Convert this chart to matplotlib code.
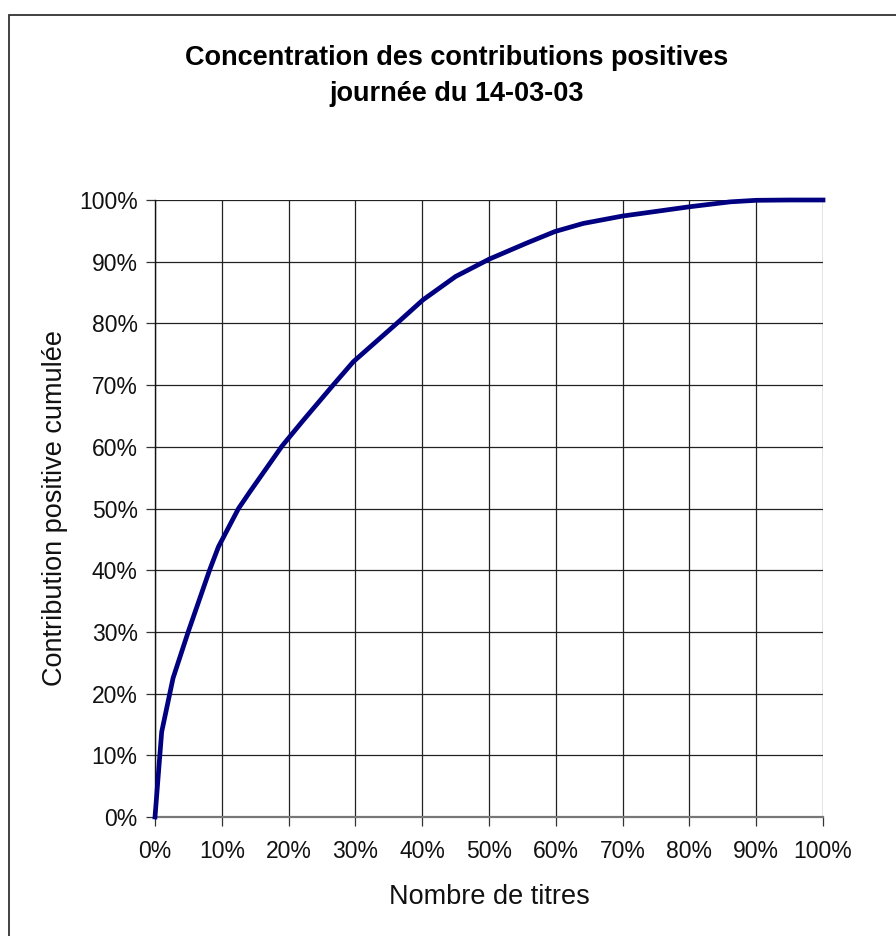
import numpy as np
import matplotlib
matplotlib.use("Agg")
import matplotlib.pyplot as plt
from matplotlib.patches import Rectangle
from matplotlib.ticker import FuncFormatter, MultipleLocator

plt.rcParams["font.family"] = ["Liberation Sans", "DejaVu Sans"]

# courbe de concentration (part des titres, contribution positive cumulée), en %
part_titres = [0, 1.0, 2.7, 5.0, 8.2, 9.5, 12.5, 14.2, 19.0, 22.2,
               26.9, 29.7, 36.2, 40.1, 45.0, 50.0, 55.6, 59.9, 64.1, 70.0,
               80.0, 86.1, 90.0, 95.0, 100.0]
contrib_cumulee = [0, 13.8, 22.5, 30.1, 40.1, 43.8, 50.0, 52.7, 60.1,
                   64.3, 70.3, 73.8, 80.0, 83.8, 87.6, 90.4, 93.0, 94.9,
                   96.2, 97.4, 98.9, 99.7, 99.95, 100.0, 100.0]

titre = ["Concentration des contributions positives", "journée du 14-03-03"]

W, H = 896, 936
fig = plt.figure(figsize=(W / 100, H / 100), dpi=100)

# cadre de la zone de graphique (coupé à droite et en bas)
fig.patches.append(Rectangle((9 / W, -0.05), 1.0, 1 - 15 / H + 0.05,
                             transform=fig.transFigure, fill=False,
                             ec="#333333", lw=1.3))

ax = fig.add_axes([155 / W, 1 - 817 / H, (823 - 155) / W, (817 - 200) / H])
ax.plot(part_titres, contrib_cumulee, color="#000080", lw=3.4,
        solid_joinstyle="round", clip_on=False, zorder=3)

ax.set_xlim(0, 100)
ax.set_ylim(0, 100)
ax.xaxis.set_major_locator(MultipleLocator(10))
ax.yaxis.set_major_locator(MultipleLocator(10))
pct = FuncFormatter(lambda v, _: f"{v:.0f}%")
ax.xaxis.set_major_formatter(pct)
ax.yaxis.set_major_formatter(pct)
ax.grid(True, color="#222222", lw=0.9)
ax.set_axisbelow(True)

for s in ["top", "right"]:
    ax.spines[s].set_visible(False)
ax.spines["left"].set_color("#111111")
ax.spines["left"].set_linewidth(1.0)
ax.spines["bottom"].set_color("#777777")
ax.spines["bottom"].set_linewidth(1.6)

ax.tick_params(direction="out", length=6.5, width=0.9, color="#333333",
               labelsize=16.5, labelcolor="#111111")
ax.tick_params(axis="x", pad=10)
ax.tick_params(axis="y", pad=6)

ax.set_xlabel("Nombre de titres", fontsize=19.5, labelpad=15, color="#111111")
ax.set_ylabel("Contribution positive cumulée", fontsize=19.5, labelpad=8,
              color="#111111")

fig.text(457 / W, 1 - 65 / H, titre[0], ha="center", va="baseline",
         fontsize=19.5, fontweight="bold")
fig.text(457 / W, 1 - 101 / H, titre[1], ha="center", va="baseline",
         fontsize=19.5, fontweight="bold")

fig.savefig("out.png", dpi=100, facecolor="white")
